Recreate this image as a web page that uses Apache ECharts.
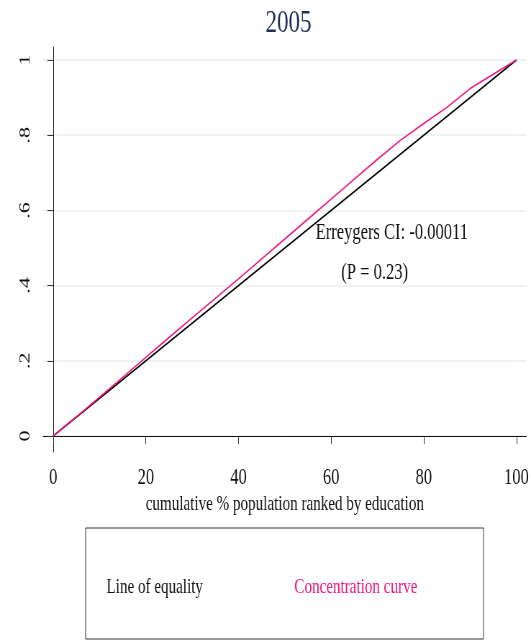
<!DOCTYPE html>
<html>
<head>
<meta charset="utf-8">
<script src="https://cdn.jsdelivr.net/npm/echarts@6/dist/echarts.min.js"></script>
<style>
html,body{margin:0;padding:0;background:#fff;overflow:hidden;}
#wrap{width:531px;height:640px;overflow:hidden;}
/* the reference is squeezed sideways, so the chart is drawn wider and scaled back */
#chart{width:738px;height:640px;transform:scaleX(0.7195);transform-origin:0 0;}
</style>
</head>
<body>
<div id="wrap"><div id="chart"></div></div>
<script>

var popShare = [0,5,10,15,20,25,30,35,40,45,50,55,60,65,70,75,80,85,90,95,100];
var concShare = [0,0.051,0.103,0.156,0.209,0.262,0.314,0.366,0.418,0.471,0.524,0.577,0.630,0.683,0.736,0.787,0.831,0.874,0.924,0.962,1];

var equalityX = [0,100];
var equalityY = [0,1];

var xTicks = [0,20,40,60,80,100];
var yTicks = [0,0.2,0.4,0.6,0.8,1];
var yTickLabels = ["0",".2",".4",".6",".8","1"];

var legendNames = ["Line of equality","Concentration curve"];
var ciText = "Erreygers CI: -0.00011";
var pText = "(P = 0.23)";

var pink = "#ee1680";
var serif = "Liberation Serif";

function pairs(xs, ys){
  var out = [];
  for(var i = 0; i < xs.length; i++){
    out.push([xs[i], ys[i]]);
  }
  return out;
}

var chart = echarts.init(document.getElementById("chart"));

var option = {
  animation:false,
  backgroundColor:"#fff",

  title:{
    text:"2005",
    left:396,
    top:3,
    textAlign:"center",
    textStyle:{
      fontFamily:serif,
      fontSize:32,
      fontWeight:"normal",
      color:"#1f2f55"
    }
  },

  grid:{
    left:60,
    right:5,
    top:47,
    bottom:188
  },

  xAxis:{
    type:"value",
    min:-2.16,
    max:102.17,
    name:"cumulative % population ranked by education",
    nameLocation:"middle",
    nameGap:42,
    nameTextStyle:{
      fontFamily:serif,
      fontSize:21,
      color:"#111"
    },
    axisLine:{
      show:true,
      lineStyle:{color:"#111",width:1}
    },
    axisTick:{
      show:true,
      length:8,
      customValues:xTicks,
      lineStyle:{color:"#333"}
    },
    axisLabel:{
      customValues:xTicks,
      margin:14,
      fontFamily:serif,
      fontSize:23,
      color:"#111"
    },
    splitLine:{show:false}
  },

  yAxis:{
    type:"value",
    min:-0.0426,
    max:1.0346,
    axisLine:{
      show:true,
      lineStyle:{color:"#111",width:1}
    },
    axisTick:{
      show:true,
      length:8,
      customValues:yTicks,
      lineStyle:{color:"#333"}
    },
    axisLabel:{
      customValues:yTicks,
      rotate:90,
      margin:14,
      fontFamily:serif,
      fontSize:22,
      color:"#111",
      formatter:function(v){
        for(var i = 0; i < yTicks.length; i++){
          if(Math.abs(yTicks[i] - v) < 1e-6) return yTickLabels[i];
        }
        return "";
      }
    },
    splitLine:{
      show:true,
      lineStyle:{color:"#e7eff2",width:1.5}
    }
  },

  legend:{
    data:[
      {name:legendNames[0], textStyle:{color:"#111"}},
      {name:legendNames[1], textStyle:{color:pink}}
    ],
    left:119,
    top:528,
    orient:"horizontal",
    itemWidth:0,
    itemHeight:0,
    itemGap:121,
    padding:[49,92,41,23],
    borderColor:"#333",
    borderWidth:1,
    textStyle:{
      fontFamily:serif,
      fontSize:21
    }
  },

  series:[
    {
      name:legendNames[0],
      type:"line",
      symbol:"none",
      data:pairs(equalityX, equalityY),
      lineStyle:{color:"#000",width:1.6},
      itemStyle:{color:"#000"},
      markPoint:{
        silent:true,
        symbol:"circle",
        symbolSize:0,
        label:{
          show:true,
          position:"inside",
          fontFamily:serif,
          fontSize:23,
          color:"#111"
        },
        data:[
          {coord:[73.1,0.539], label:{formatter:ciText}},
          {coord:[69.4,0.433], label:{formatter:pText}}
        ]
      }
    },
    {
      name:legendNames[1],
      type:"line",
      symbol:"none",
      data:pairs(popShare, concShare),
      lineStyle:{color:pink,width:1.6},
      itemStyle:{color:pink}
    }
  ]
};

chart.setOption(option);

</script>
</body>
</html>
